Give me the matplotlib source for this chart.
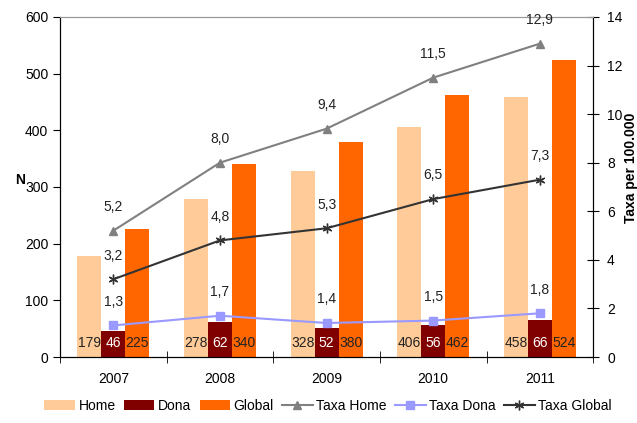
import matplotlib.pyplot as plt
import numpy as np

years = ["2007", "2008", "2009", "2010", "2011"]
home = [179, 278, 328, 406, 458]
dona = [46, 62, 52, 56, 66]
global_n = [225, 340, 380, 462, 524]
taxa_home = [5.2, 8.0, 9.4, 11.5, 12.9]
taxa_dona = [1.3, 1.7, 1.4, 1.5, 1.8]
taxa_global = [3.2, 4.8, 5.3, 6.5, 7.3]

plt.rcParams['font.family'] = ['Liberation Sans', 'DejaVu Sans']
fs = 10

fig = plt.figure(figsize=(6.37, 4.23), dpi=100)
ax = fig.add_axes([0.0942, 0.156, 0.837, 0.804])
ax2 = ax.twinx()

x = np.arange(len(years))
w = 0.225
b1 = ax.bar(x - w, home, w, color='#FFCC99', label='Home')
b2 = ax.bar(x, dona, w, color='#800000', label='Dona')
b3 = ax.bar(x + w, global_n, w, color='#FF6600', label='Global')

# labels at bar base
for i in range(len(years)):
    ax.text(x[i] - w, 25, str(home[i]), ha='center', va='center', fontsize=fs, color='#222222')
    ax.text(x[i], 25, str(dona[i]), ha='center', va='center', fontsize=fs, color='white')
    ax.text(x[i] + w, 25, str(global_n[i]), ha='center', va='center', fontsize=fs, color='#222222')

l1, = ax2.plot(x, taxa_home, color='#808080', lw=1.5, marker='^', ms=6, label='Taxa Home')
l2, = ax2.plot(x, taxa_dona, color='#9999FF', lw=1.5, marker='s', ms=6, label='Taxa Dona')
l3, = ax2.plot(x, taxa_global, color='#333333', lw=1.5, marker=(6, 2, 0), ms=7, mew=1,
               label='Taxa Global')

def fmt(v):
    return f"{v:.1f}".replace('.', ',')

for vals in (taxa_home, taxa_dona, taxa_global):
    for i in range(len(years)):
        ax2.annotate(fmt(vals[i]), (x[i], vals[i]), xytext=(0, 12), textcoords='offset points',
                     ha='center', va='bottom', fontsize=fs, color='#222222')

ax.set_xlim(-0.5, len(years) - 0.5)
ax.set_ylim(0, 600)
ax.set_yticks(range(0, 601, 100))
ax2.set_ylim(0, 14)
ax2.set_yticks(range(0, 15, 2))

ax.set_xticks(x)
ax.set_xticklabels(years, fontsize=fs)
ax.set_xticks(np.arange(-0.5, len(years)), minor=True)
ax.tick_params(axis='x', which='major', length=0, pad=11)
ax.tick_params(axis='x', which='minor', length=8, direction='inout')
ax.tick_params(axis='y', labelsize=fs, length=5, direction='out')
ax2.tick_params(axis='y', labelsize=fs, length=8, direction='inout', pad=6)

ax.spines['top'].set_color('#999999')
for s in ['left', 'bottom']:
    ax.spines[s].set_color('black')
ax2.spines['top'].set_color('#999999')
ax2.spines['right'].set_color('black')

ax.set_ylabel('N', fontsize=fs, fontweight='bold', rotation=0)
ax.yaxis.set_label_coords(-0.075, 0.5)
fig.text(631 / 637, 1 - 168 / 423, 'Taxa per 100.000', rotation=90, ha='center', va='center',
         fontsize=fs, fontweight='bold')

fig.legend(handles=[b1, b2, b3, l1, l2, l3], loc='lower center', ncol=6, frameon=False,
           fontsize=fs, bbox_to_anchor=(0.515, -0.005), handlelength=2.2, columnspacing=0.6,
           handletextpad=0.25)

plt.savefig('out.png', dpi=100)
